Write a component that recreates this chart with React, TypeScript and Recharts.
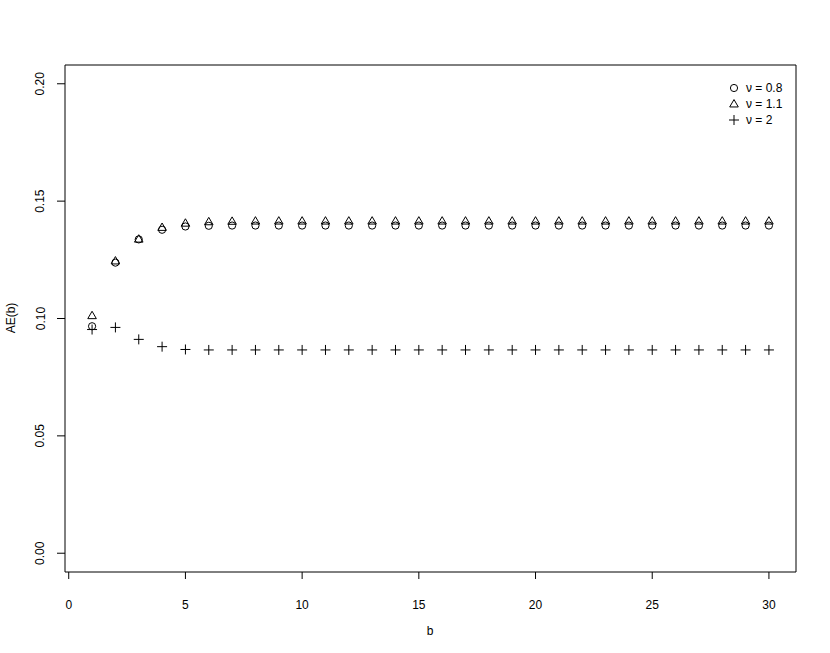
import { ScatterChart, Scatter, XAxis, YAxis, ReferenceArea } from 'recharts'

const bValues = [1, 2, 3, 4, 5, 6, 7, 8, 9, 10, 11, 12, 13, 14, 15, 16, 17, 18, 19, 20, 21, 22, 23, 24, 25, 26, 27, 28, 29, 30]

const aeNu08 = [
  0.0967, 0.1238, 0.1337, 0.1378, 0.1392, 0.1395, 0.1396, 0.1396, 0.1396, 0.1396,
  0.1396, 0.1396, 0.1396, 0.1396, 0.1396, 0.1396, 0.1396, 0.1396, 0.1396, 0.1396,
  0.1396, 0.1396, 0.1396, 0.1396, 0.1396, 0.1396, 0.1396, 0.1396, 0.1396, 0.1396,
]

const aeNu11 = [
  0.1012, 0.1245, 0.1338, 0.1388, 0.1406, 0.1412, 0.1414, 0.1415, 0.1415, 0.1415,
  0.1415, 0.1415, 0.1415, 0.1415, 0.1415, 0.1415, 0.1415, 0.1415, 0.1415, 0.1415,
  0.1415, 0.1415, 0.1415, 0.1415, 0.1415, 0.1415, 0.1415, 0.1415, 0.1415, 0.1415,
]

const aeNu2 = [
  0.0953, 0.0962, 0.0911, 0.088, 0.0868, 0.0866, 0.0866, 0.0866, 0.0866, 0.0866,
  0.0866, 0.0866, 0.0866, 0.0866, 0.0866, 0.0866, 0.0866, 0.0866, 0.0866, 0.0866,
  0.0866, 0.0866, 0.0866, 0.0866, 0.0866, 0.0866, 0.0866, 0.0866, 0.0866, 0.0866,
]

const xTicks = [0, 5, 10, 15, 20, 25, 30]
const yTicks = [0, 0.05, 0.1, 0.15, 0.2]
const legendLabels = ['ν = 0.8', 'ν = 1.1', 'ν = 2']

const FONT = '"Liberation Sans", Arial, Helvetica, sans-serif'

const toPoints = (ys: number[]) => bValues.map((b, i) => ({ b, ae: ys[i] }))

type Marker = 'circle' | 'triangle' | 'plus'

function markerPath(kind: Marker, x: number, y: number) {
  if (kind === 'circle') {
    return <circle cx={x} cy={y} r={3.6} fill="none" stroke="#000" strokeWidth={1} />
  }
  if (kind === 'triangle') {
    const h = 7.4
    const w = 8.6
    return (
      <polygon
        points={`${x},${y - h * 0.6} ${x - w / 2},${y + h * 0.4} ${x + w / 2},${y + h * 0.4}`}
        fill="none"
        stroke="#000"
        strokeWidth={1}
      />
    )
  }
  return (
    <path
      d={`M${x - 5},${y}H${x + 5}M${x},${y - 5}V${y + 5}`}
      stroke="#000"
      strokeWidth={1}
      fill="none"
    />
  )
}

const shapeFor = (kind: Marker) => (props: any) => {
  const { cx, cy } = props
  if (cx == null || cy == null) return <g />
  return <g>{markerPath(kind, cx, cy)}</g>
}

const XTick = (props: any) => {
  const { x, y, payload } = props
  return (
    <text x={x} y={y + 30} textAnchor="middle" fontSize={12} fontFamily={FONT} fill="#000">
      {payload.value}
    </text>
  )
}

const YTick = (props: any) => {
  const { x, y, payload } = props
  const bx = x - 12.5
  return (
    <text
      x={bx}
      y={y}
      transform={`rotate(-90 ${bx} ${y})`}
      textAnchor="middle"
      fontSize={12}
      fontFamily={FONT}
      fill="#000"
    >
      {Number(payload.value).toFixed(2)}
    </text>
  )
}

const markers: Marker[] = ['circle', 'triangle', 'plus']

export default function App() {
  return (
    <div style={{ position: 'absolute', left: 0, top: 0, width: 830, height: 653, background: '#fff' }}>
      <ScatterChart width={830} height={653} margin={{ top: 65, right: 34, left: 0, bottom: 0 }}>
        <XAxis
          type="number"
          dataKey="b"
          domain={[-0.16, 31.16]}
          allowDataOverflow
          ticks={xTicks}
          interval={0}
          height={81}
          tickSize={7}
          tickMargin={0}
          axisLine={false}
          tickLine={{ stroke: '#000' }}
          tick={XTick}
        />
        <YAxis
          type="number"
          dataKey="ae"
          domain={[-0.008, 0.208]}
          allowDataOverflow
          ticks={yTicks}
          interval={0}
          width={65}
          tickSize={8}
          tickMargin={0}
          axisLine={false}
          tickLine={{ stroke: '#000' }}
          tick={YTick}
        />
        <ReferenceArea
          x1={-0.16}
          x2={31.16}
          y1={-0.008}
          y2={0.208}
          fill="none"
          fillOpacity={0}
          stroke="#000"
          strokeWidth={1}
          strokeOpacity={1}
        />
        <Scatter data={toPoints(aeNu08)} shape={shapeFor('circle')} isAnimationActive={false} />
        <Scatter data={toPoints(aeNu11)} shape={shapeFor('triangle')} isAnimationActive={false} />
        <Scatter data={toPoints(aeNu2)} shape={shapeFor('plus')} isAnimationActive={false} />
      </ScatterChart>
      <svg
        width={830}
        height={653}
        style={{ position: 'absolute', left: 0, top: 0, pointerEvents: 'none' }}
      >
        <text x={430} y={635} textAnchor="middle" fontSize={12} fontFamily={FONT} fill="#000">
          b
        </text>
        <text
          x={15}
          y={318}
          transform="rotate(-90 15 318)"
          textAnchor="middle"
          fontSize={12}
          fontFamily={FONT}
          fill="#000"
        >
          AE(b)
        </text>
        {legendLabels.map((label, i) => (
          <g key={label}>
            {markerPath(markers[i], 734, 88 + i * 16)}
            <text x={746} y={92.3 + i * 16} fontSize={12} fontFamily={FONT} fill="#000">
              {label}
            </text>
          </g>
        ))}
      </svg>
    </div>
  )
}
